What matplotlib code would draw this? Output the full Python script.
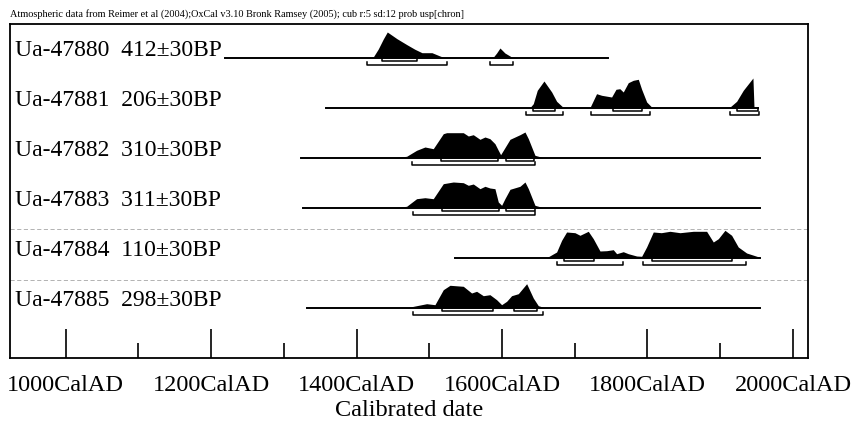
import numpy as np
import matplotlib.pyplot as plt
from matplotlib.ticker import MultipleLocator, FuncFormatter
from matplotlib.transforms import blended_transform_factory

plt.rcParams['font.family'] = ['Liberation Serif', 'DejaVu Serif']

TITLE = ('Atmospheric data from Reimer et al (2004);OxCal v3.10 Bronk Ramsey (2005); '
         'cub r:5 sd:12 prob usp[chron]')

labels = ['Ua-47880  412\u00b130BP', 'Ua-47881  206\u00b130BP', 'Ua-47882  310\u00b130BP',
          'Ua-47883  311\u00b130BP', 'Ua-47884  110\u00b130BP', 'Ua-47885  298\u00b130BP']

# extent of the thin line under each distribution (cal AD)
line_from = [1219, 1358, 1323, 1326, 1536, 1332]
line_to = [1746, 1952, 1955, 1955, 1955, 1955]

# probability distributions (year, relative height)
ua47880_years = [1410, 1422.6, 1429.9, 1436.8, 1442.3, 1455.6, 1469.3, 1480.3, 1490, 1503.7,
                 1514.7, 1520, 1540, 1580, 1588, 1592.6, 1597.2, 1604, 1613.3, 1625]
ua47880_prob = [0, 0.5, 9, 19, 26, 19.3, 13.3, 8.7, 5.3, 5.3,
                2, 0.6, 0.2, 0.3, 0.8, 5, 10, 5, 1, 0]

ua47881_years = [1630, 1638.6, 1643, 1648.5, 1657.7, 1668.3, 1675.1, 1684.3, 1700, 1721,
                 1730, 1737, 1750.7, 1756.7, 1762, 1766.7, 1773.6, 1780.5, 1787.4, 1792,
                 1798.9, 1805.7, 1820, 1900, 1913.5, 1922.6, 1931.7, 1945, 1946.5]
ua47881_prob = [0, 0.5, 4.3, 17.7, 27, 16, 6.7, 0.5, 0.2, 0.5,
                14.3, 12.7, 11, 18.7, 19.3, 16, 25.3, 27.7, 28.7, 18.7,
                6, 1, 0.3, 0.3, 1, 6.7, 17.7, 30, 0]

ua47882_years = [1440, 1450.6, 1468.9, 1482.6, 1494.1, 1505.5, 1519.3, 1523.9, 1546.8, 1553.7,
                 1560.5, 1569.7, 1576.6, 1583.4, 1590.3, 1594.9, 1598.1, 1601.8, 1611, 1624.7,
                 1631.6, 1636.2, 1645.3, 1656.8, 1665]
ua47882_prob = [0, 0.3, 1.7, 7.7, 11, 9.3, 24.3, 25.3, 25.3, 22,
                23.3, 18.7, 21, 19.3, 14.3, 7.7, 3.3, 7.7, 18.7, 23.3,
                26, 19.3, 2.7, 0.3, 0]

ua47883_years = [1440, 1450.6, 1468.9, 1482.6, 1494.1, 1505.5, 1519.3, 1533, 1546.8, 1553.7,
                 1560.5, 1569.7, 1576.6, 1583.4, 1590.3, 1594.9, 1599.5, 1604, 1611, 1624.7,
                 1631.6, 1636.2, 1645.3, 1656.8, 1665]
ua47883_prob = [0, 0.3, 1.7, 9.3, 10.3, 9.3, 24.3, 26, 25.3, 22.7,
                24, 19.3, 21.7, 20, 19.3, 6, 2.7, 9.3, 18.7, 21.7,
                26, 19.3, 2.7, 0.3, 0]

ua47884_years = [1650, 1661.4, 1675.1, 1682, 1688.8, 1700.3, 1707.2, 1718.6, 1725.5, 1734.7,
                 1743.8, 1753, 1757.6, 1766.7, 1773.6, 1785.1, 1792, 1798.8, 1808, 1819,
                 1830.9, 1844.7, 1863, 1881.3, 1890.5, 1897.4, 1906.5, 1915.7, 1924.8, 1936.3,
                 1954.6]
ua47884_prob = [0, 0.3, 6, 17.7, 26, 25.3, 22.7, 26.7, 19.3, 7,
                7.3, 8.3, 4.3, 6.3, 4.3, 2, 1.7, 11, 26, 25.3,
                26.7, 25.3, 26.7, 26.7, 16, 19.3, 27.7, 22.7, 11, 5,
                0.7]

ua47885_years = [1455, 1468.9, 1482.6, 1496.4, 1507.8, 1519.3, 1528.5, 1546.8, 1558.2, 1565.1,
                 1574.3, 1583.4, 1592.6, 1599.5, 1606.4, 1613.2, 1622.4, 1633.9, 1643, 1649.9,
                 1659.1, 1668]
ua47885_prob = [0, 0.3, 2.3, 4.3, 3.3, 18.3, 22.7, 21.7, 15, 16.7,
                12.3, 13.3, 8.3, 3.3, 6.7, 12.3, 14.3, 24.3, 10, 2.3,
                0.3, 0]

# 68.2% and 95.4% ranges
range68 = [[(1435, 1483)],
           [(1643, 1673), (1753, 1792), (1923, 1952)],
           [(1516, 1595), (1605, 1644)],
           [(1517, 1596), (1606, 1645)],
           [(1685, 1726), (1806, 1916)],
           [(1518, 1587), (1617, 1648)]]
range95 = [[(1414, 1524), (1583, 1615)],
           [(1633, 1684), (1723, 1803), (1913, 1954)],
           [(1476, 1645)],
           [(1477, 1645)],
           [(1675, 1767), (1794, 1935)],
           [(1477, 1657)]]

dists = [(ua47880_years, ua47880_prob), (ua47881_years, ua47881_prob),
         (ua47882_years, ua47882_prob), (ua47883_years, ua47883_prob),
         (ua47884_years, ua47884_prob), (ua47885_years, ua47885_prob)]

W, H = 853, 421
fig = plt.figure(figsize=(W / 100, H / 100), dpi=100)
# box in pixels: x 10..808, y 24..358
top, bottom = 24, 358
ax = fig.add_axes([10 / W, (H - bottom) / H, 798 / W, (bottom - top) / H])
ax.set_xlim(923.6, 2020.7)
ax.set_ylim(bottom, top)

row_y = np.linspace(58, 308, 6)
trans = blended_transform_factory(ax.transAxes, ax.transData)

for i, base in enumerate(row_y):
    yrs, p = dists[i]
    p = np.array(p, dtype=float)
    ax.fill_between(yrs, base, base - p, color='black', lw=0)
    ax.plot([line_from[i], line_to[i]], [base, base], color='black', lw=1.4)
    for a, b in range68[i]:
        ax.plot([a, a, b, b], [base, base + 3.5, base + 3.5, base], color='black', lw=1.1)
    for a, b in range95[i]:
        ax.plot([a, a, b, b], [base + 4.5, base + 7, base + 7, base + 4.5], color='black', lw=1.1)
    ax.text(0.006, base - 2, labels[i], transform=trans, fontsize=17,
            va='baseline', ha='left')

# faint scan separators
for y in [229, 280]:
    ax.axhline(y, color='0.65', lw=0.6, ls=(0, (5, 3)))

for s in ax.spines.values():
    s.set_linewidth(1.3)

ax.xaxis.set_major_locator(MultipleLocator(200))
ax.xaxis.set_minor_locator(MultipleLocator(100))
ax.xaxis.set_major_formatter(FuncFormatter(lambda v, pos: '%dCalAD' % v))
ax.tick_params(axis='x', which='major', direction='in', length=21, width=1.2,
               labelsize=17.5, pad=12)
ax.tick_params(axis='x', which='minor', direction='in', length=11, width=1.2)
ax.set_yticks([])
ax.set_xlabel('Calibrated date', fontsize=17.5, labelpad=3)

fig.text(10 / W, 1 - 14 / H, TITLE, fontsize=7.4, va='center', ha='left')

fig.savefig('out.png', dpi=100)
